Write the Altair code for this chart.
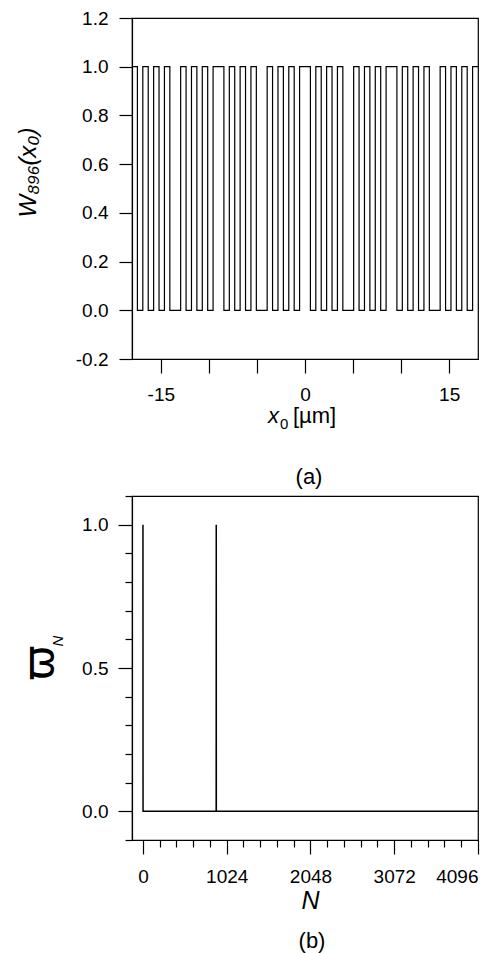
import altair as alt
import numpy as np
import pandas as pd

# ---------------- (a) W_896(x0): 64 equal segments over the x0 range ----------------
x0_range = [-18.0, 18.0]
w896_segments = [
    1, 0, 1, 0, 1, 0, 1, 0,
    0, 1, 0, 1, 0, 1, 0, 1,
    1, 0, 1, 0, 1, 0, 1, 0,
    0, 1, 0, 1, 0, 1, 0, 1,
    1, 0, 1, 0, 1, 0, 1, 0,
    0, 1, 0, 1, 0, 1, 0, 1,
    1, 0, 1, 0, 1, 0, 1, 0,
    0, 1, 0, 1, 0, 1, 0, 1,
]
x_ticks_a = [-15, -10, -5, 0, 5, 10, 15]
y_ticks_a = [-0.2, 0.0, 0.2, 0.4, 0.6, 0.8, 1.0, 1.2]

# ---------------- (b) spectrum omega_N ----------------
N_points = [0, 1, 895, 896, 897, 4095]
omega_points = [1, 0, 0, 1, 0, 0]
x_ticks_b = [0, 204.8, 409.6, 614.4, 819.2, 1024, 1228.8, 1433.6, 1638.4, 1843.2,
             2048, 2252.8, 2457.6, 2662.4, 2867.2, 3072, 3276.8, 3481.6, 3686.4,
             3891.2, 4096]
y_ticks_b = [-0.1, 0.0, 0.1, 0.2, 0.3, 0.4, 0.5, 0.6, 0.7, 0.8, 0.9, 1.0, 1.1]

FONT = "Liberation Sans"
H_A = 341
H_B = 344
W = 346

edges = np.linspace(x0_range[0], x0_range[1], len(w896_segments) + 1)
df_a = pd.DataFrame({"x": edges, "w": w896_segments + [w896_segments[-1]]})
df_b = pd.DataFrame({"N": N_points, "om": omega_points})

minus_fix = "replace({f}, '\u2212', '-')"

line_a = alt.Chart(df_a).mark_line(interpolate="step-after", color="black", strokeWidth=1.2).encode(
    x=alt.X("x:Q", scale=alt.Scale(domain=x0_range, nice=False, zero=False),
            axis=alt.Axis(values=x_ticks_a, tickSize=14, labelPadding=12,
                          labelExpr="datum.value % 15 == 0 ? " + minus_fix.format(f="format(datum.value, 'd')") + " : ''",
                          title=None)),
    y=alt.Y("w:Q", scale=alt.Scale(domain=[-0.2, 1.2], nice=False, zero=False),
            axis=alt.Axis(values=y_ticks_a, tickSize=13, labelPadding=11,
                          labelExpr=minus_fix.format(f="format(datum.value, '.1f')"),
                          title="W\u2088\u2089\u2086(x\u2080)", titleFontSize=24, titleFontStyle="italic",
                          titleBaseline="alphabetic", titleAngle=270, titleX=-97, titleY=154)),
    order="x:Q",
)


def label(text, x, y, size, style="normal", align="left", baseline="alphabetic", font=FONT, angle=0):
    return alt.Chart(pd.DataFrame({"t": [text]})).mark_text(
        font=font, fontSize=size, fontStyle=style, align=align, baseline=baseline,
        color="black", angle=angle,
    ).encode(x=alt.value(x), y=alt.value(y), text="t:N")


# x-axis title of (a): italic x, subscript 0, upright unit
xt_x = label("x", 147, H_A + 64, 22, style="italic", align="right")
xt_0 = label("0", 148, H_A + 70, 15)
xt_u = label("[\u00b5m]", 161, H_A + 64, 22)

chart_a = alt.layer(line_a, xt_x, xt_0, xt_u).properties(
    width=W, height=H_A,
    title=alt.TitleParams("(a)", orient="bottom", font=FONT, fontSize=22, fontWeight="normal",
                          color="black", offset=35, dx=4),
)

major_b_x = "abs(datum.value/1024 - round(datum.value/1024)) < 1e-6"
major_b_y = "abs(datum.value*2 - round(datum.value*2)) < 1e-6"

line_b = alt.Chart(df_b).mark_line(color="black", strokeWidth=1.5).encode(
    x=alt.X("N:Q", scale=alt.Scale(domain=[-134, 4096], nice=False, zero=False),
            axis=alt.Axis(values=x_ticks_b,
                          tickSize={"condition": {"test": major_b_x, "value": 14}, "value": 7},
                          labelPadding=13,
                          labelExpr=major_b_x + " ? format(datum.value, 'd') : ''",
                          title="N", titleFontSize=25, titleFontStyle="italic",
                          titleBaseline="alphabetic", titleY=68, titleX=178)),
    y=alt.Y("om:Q", scale=alt.Scale(domain=[-0.1, 1.1], nice=False, zero=False),
            axis=alt.Axis(values=y_ticks_b,
                          tickSize={"condition": {"test": major_b_y, "value": 14}, "value": 7},
                          labelPadding=10,
                          labelExpr=major_b_y + " ? format(datum.value, '.1f') : ''",
                          title=None)),
)

ylab_main = label("\u03d6", -92, 167, 42, align="center", baseline="middle",
                  font="DejaVu Sans", angle=270)
ylab_sub = label("N", -74, 145, 15, style="italic", align="center", baseline="middle", angle=270)

chart_b = alt.layer(line_b, ylab_main, ylab_sub).properties(
    width=W, height=H_B,
    title=alt.TitleParams("(b)", orient="bottom", font=FONT, fontSize=22, fontWeight="normal",
                          color="black", offset=18, dx=7),
)

chart = alt.vconcat(chart_a, chart_b, spacing=5).properties(
    padding={"left": 7, "top": 0, "right": 0, "bottom": 0}
).configure_view(
    stroke="black", strokeWidth=1.2
).configure_axis(
    grid=False, domainColor="black", domainWidth=1.2, tickColor="black", tickWidth=1.2,
    labelColor="black", labelFont=FONT, labelFontSize=19, titleColor="black",
    titleFont=FONT, titleFontWeight="normal",
)

chart.save("out.html", embed_options={"renderer": "svg", "actions": False})
